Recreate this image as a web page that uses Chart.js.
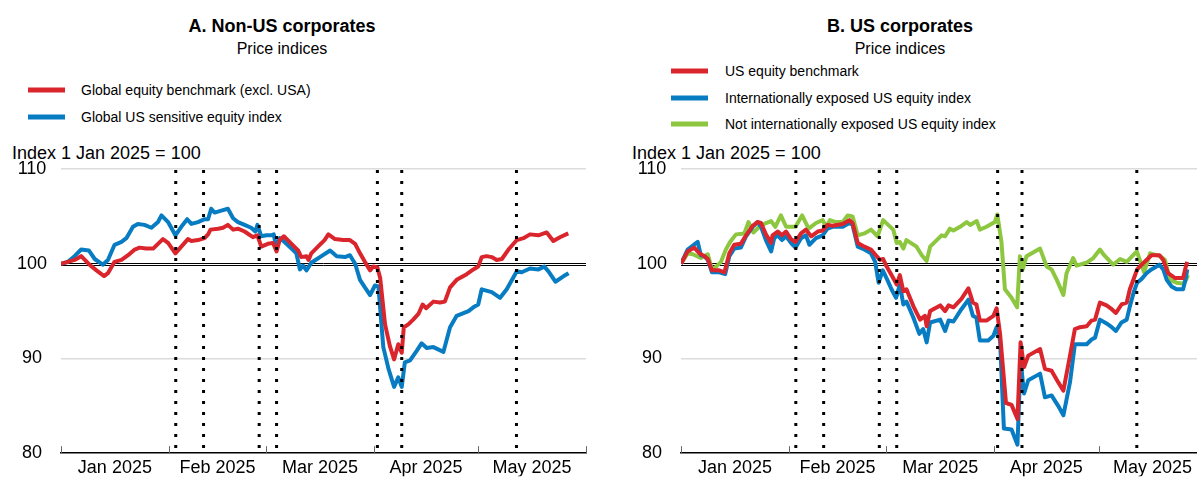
<!DOCTYPE html>
<html>
<head>
<meta charset="utf-8">
<script src="https://cdn.jsdelivr.net/npm/chart.js@4.4.1/dist/chart.umd.min.js"></script>
<style>
  body { margin: 0; width: 1197px; height: 478px; position: relative; overflow: hidden; background: #fff;
         font-family: "Liberation Sans", Arial, sans-serif; color: #000; }
  .c { position: absolute; transform: translate(-50%, -50%); white-space: nowrap; line-height: 1; }
  .title { font-size: 18px; font-weight: bold; }
  .sub { font-size: 16px; }
  .unit { position: absolute; font-size: 18px; line-height: 1; transform: translateY(-50%); white-space: nowrap; }
  .leg { position: absolute; font-size: 14px; line-height: 1; white-space: nowrap; transform: translateY(-50%); }
  .sw { position: absolute; width: 37px; height: 5px; transform: translateY(-50%); }
  canvas { position: absolute; top: 140px; }
</style>
</head>
<body>
<div class="c title" style="left:282px;top:26px">A. Non-US corporates</div>
<div class="c sub" style="left:282px;top:49px">Price indices</div>
<div class="c title" style="left:900px;top:26px">B. US corporates</div>
<div class="c sub" style="left:900px;top:49px">Price indices</div>
<div class="unit" style="left:12px;top:153px">Index 1 Jan 2025 = 100</div>
<div class="unit" style="left:632px;top:153px">Index 1 Jan 2025 = 100</div>
<div id="legA"></div>
<div id="legB"></div>
<canvas id="chartA" width="598" height="338" style="left:0"></canvas>
<canvas id="chartB" width="597" height="338" style="left:600px"></canvas>
<script>
// x values are days since 1 Jan 2025
const monthLabels = ["Jan 2025", "Feb 2025", "Mar 2025", "Apr 2025", "May 2025"];
const monthMid = [15.5, 45, 74.5, 105, 135.5];
const monthStart = [0, 31, 59, 90, 120, 151];
const eventDays = [33, 41, 57, 62, 91, 98, 131];

// Panel A
const benchADays = [0, 2, 3.9, 5.8, 8.2, 10.2, 12.4, 13.5, 15.4, 17.4, 19.3, 21.2, 22.6, 24.5, 26.5, 27.9, 29.3, 30.8, 32.9, 34.6, 36.5, 37.5, 39.4, 41.3, 42.3, 43, 45.2, 46.6, 48, 49.5, 50.9, 52.8, 55.2, 56.5, 57.6, 59.5, 61, 62, 62.9, 64.1, 66.3, 68.2, 69.1, 70.6, 71.2, 72, 73.9, 75.8, 76.9, 78.8, 81.2, 83.1, 84.6, 86, 87.4, 88.9, 89.8, 91, 91.8, 93.2, 94.6, 95.8, 97, 98, 98.6, 99.9, 101.3, 102.8, 104, 105, 107.1, 109, 110.4, 111.9, 113.8, 116.7, 118.6, 120, 121, 122.4, 123.9, 125.3, 126.8, 128.7, 131.1, 133, 134.9, 137.3, 139.7, 141.6, 143.5, 145.9];
const benchA = [100, 100.2, 100.4, 100.8, 99.9, 99.3, 98.7, 99.0, 100.2, 100.4, 100.9, 101.5, 101.7, 101.6, 101.6, 102.1, 102.6, 102.2, 101.1, 101.8, 102.6, 102.4, 102.5, 102.7, 103.1, 103.6, 103.7, 103.8, 104.1, 103.6, 103.7, 103.4, 102.8, 103.0, 101.8, 102.1, 102.2, 101.3, 102.5, 102.9, 102.1, 101.4, 100.7, 100.8, 100.4, 101.1, 101.8, 102.5, 103.1, 102.6, 102.5, 102.5, 102.1, 101.1, 100.2, 99.3, 99.7, 99.6, 98.5, 93.6, 91.3, 89.9, 91.5, 90.6, 93.3, 93.6, 94.1, 94.7, 95.7, 95.3, 96.0, 95.9, 96.0, 97.5, 98.3, 98.9, 99.4, 99.7, 100.7, 100.8, 100.7, 100.4, 100.5, 101.5, 102.5, 102.7, 103.1, 103.0, 103.3, 102.4, 102.8, 103.2];
const usSensDays = [0, 2, 3.9, 5.8, 8, 9.7, 12, 13.5, 15.4, 17.4, 18.8, 20.7, 22.1, 24, 26, 27.9, 28.9, 30.8, 32.9, 34.6, 36.3, 37.5, 39.4, 41.3, 42.3, 43.2, 44.2, 46.1, 48, 49.5, 50.9, 52.8, 54.7, 55.9, 56.5, 57.6, 59.1, 60.5, 61.2, 62, 62.9, 64.3, 66.3, 67.7, 68.7, 69.6, 70.6, 72, 74.9, 77.4, 79.3, 81.7, 83.1, 84.6, 86, 87.4, 88.9, 90.3, 91.3, 92.7, 94.2, 95.8, 97, 98, 98.9, 100.4, 102.3, 103.7, 105.2, 107.1, 110, 111.9, 113.8, 117.2, 118.6, 120, 121, 123.9, 126.3, 128.2, 131.1, 132.5, 134.9, 137.3, 139, 140.2, 142.2, 144.6, 146];
const usSensA = [100, 100.2, 100.8, 101.5, 101.4, 100.5, 99.9, 100.4, 102.0, 102.3, 102.7, 103.9, 104.2, 104.1, 103.8, 104.4, 105.1, 104.4, 103.0, 103.9, 104.7, 104.2, 104.4, 104.7, 104.7, 105.8, 105.4, 105.6, 105.8, 104.8, 104.4, 104.1, 103.8, 103.4, 104.1, 102.9, 103.0, 103.0, 103.1, 101.5, 102.7, 102.3, 101.6, 101.1, 99.4, 99.8, 99.3, 100.1, 100.8, 101.4, 100.8, 100.7, 100.9, 100.0, 98.3, 97.5, 96.7, 97.7, 97.6, 91.2, 88.9, 87.0, 88.0, 87.0, 89.6, 89.8, 90.8, 91.6, 91.1, 91.2, 90.7, 93.3, 94.5, 95.0, 95.4, 95.7, 97.3, 97.0, 96.4, 97.3, 99.2, 99.1, 99.5, 99.4, 99.7, 99.2, 98.1, 98.7, 99.0];

// Panel B
const usBenchDays = [0, 1.9, 3.8, 5.3, 6.7, 7.7, 8.9, 11, 12.5, 13.9, 15.3, 17.2, 18.7, 20.6, 22, 23, 24.4, 25.9, 26.3, 27.8, 29, 30.2, 31.6, 32.9, 34.5, 35.9, 37.4, 39.3, 40.7, 42.1, 43.6, 46.5, 48.4, 49.3, 50.8, 52.7, 54.6, 56, 57.2, 58.1, 59.1, 60.5, 62, 62.9, 63.9, 64.8, 66.8, 68.7, 70.1, 70.6, 71.6, 74.5, 75.9, 76.9, 78.3, 80.6, 82.6, 83.9, 84.9, 85.9, 87.8, 89.8, 90.7, 91.7, 93.4, 95, 96.7, 97.6, 98.6, 99.8, 103.2, 104.6, 106.5, 108.4, 109.9, 111.8, 113.2, 114.7, 116.6, 118, 119, 120.4, 122.3, 123.8, 125, 126.6, 128.1, 129, 130.2, 131.1, 132.4, 133.8, 135.2, 137.5, 138.6, 140, 141.9, 144.3, 145.1, 145.5];
const usBench = [100, 101.3, 101.7, 101.1, 100.8, 100.5, 99.3, 99.3, 99.1, 101.1, 102.0, 102.1, 103.0, 104.0, 104.4, 104.3, 103.1, 102.2, 103.0, 103.4, 103.0, 103.4, 102.6, 102.3, 103.2, 103.6, 102.9, 103.4, 103.5, 104.1, 104.0, 104.2, 104.6, 104.3, 102.2, 101.8, 101.5, 100.9, 100.4, 100.5, 99.7, 98.8, 97.8, 98.8, 97.1, 97.3, 95.5, 94.1, 94.5, 93.4, 95.0, 95.6, 95.0, 95.6, 95.4, 96.3, 97.4, 95.9, 95.7, 94.0, 94.0, 94.5, 95.3, 92.6, 85.3, 85.1, 83.6, 91.7, 89.1, 90.3, 91.0, 88.9, 88.7, 87.5, 86.6, 90.3, 93.1, 93.3, 93.4, 94.0, 94.1, 95.9, 95.6, 95.2, 94.8, 95.7, 95.9, 97.3, 98.5, 99.4, 99.9, 100.4, 100.9, 100.9, 100.4, 99.0, 98.5, 98.5, 99.7, 100.2];
const intlDays = [0, 1.9, 4.8, 5.7, 6.7, 7.7, 8.9, 11, 12.7, 13.9, 15.3, 17.2, 18.7, 20.6, 22, 23, 24.4, 25.9, 26.8, 27.8, 29, 30.2, 31.6, 32.9, 34.5, 35.9, 36.9, 38.8, 40.7, 42.1, 43.6, 46.5, 48.4, 49.3, 50.8, 52.7, 54.6, 55.8, 56.8, 58, 59.3, 60.5, 61.8, 62.9, 63.9, 64.8, 66.8, 68.5, 69.6, 70.6, 71.6, 74.5, 75.9, 76.9, 78.3, 80.6, 82.6, 83.9, 84.9, 85.9, 88.3, 89.8, 90.7, 91.7, 92.8, 95, 96.7, 97.6, 98.6, 99.8, 103.2, 104.6, 106.5, 108.4, 109.9, 111.8, 113.2, 114.7, 116.6, 118, 119, 120.4, 122.3, 123.8, 125, 126.6, 128.1, 129, 130.2, 131.1, 132.4, 133.8, 135.2, 137.5, 138.6, 139.6, 141, 142.4, 144.3, 145.1, 145.5];
const intlExposed = [100, 101.5, 102.3, 100.9, 100.8, 100.4, 99.1, 99.1, 98.9, 100.8, 101.6, 101.7, 102.9, 103.9, 104.4, 103.9, 102.5, 101.3, 102.7, 103.0, 102.5, 102.9, 102.2, 101.7, 102.7, 103.0, 102.0, 102.7, 103.0, 103.7, 103.9, 103.9, 104.3, 104.1, 101.8, 101.5, 101.1, 100.2, 98.0, 99.3, 98.3, 97.3, 96.4, 97.8, 95.7, 96.0, 94.3, 92.6, 93.1, 91.7, 93.8, 94.1, 92.9, 94.0, 93.9, 95.2, 96.2, 94.5, 94.3, 91.9, 91.9, 92.4, 93.3, 91.9, 82.6, 82.5, 80.9, 89.8, 86.3, 87.7, 88.4, 85.9, 86.1, 85.0, 84.0, 87.5, 91.5, 91.5, 91.5, 92.0, 92.2, 94.1, 93.7, 93.3, 92.9, 93.8, 94.1, 95.5, 97.1, 98.0, 98.4, 99.0, 99.4, 99.9, 99.4, 98.3, 97.6, 97.3, 97.3, 98.5, 99.4];
const notIntlDays = [0, 1.9, 3.4, 5.7, 7.7, 8.9, 10.1, 11.5, 12.9, 14.1, 15.8, 18.2, 19.4, 20.8, 22.5, 23.9, 25.9, 27.1, 28.7, 30.2, 32.9, 34.8, 36.7, 38.8, 40.7, 41.7, 42.8, 44.5, 46.5, 47.9, 49.3, 50.8, 52.7, 54.6, 56.5, 58.1, 61, 62, 62.9, 63.9, 64.8, 67.7, 69.2, 70.6, 71.6, 73.5, 74.9, 75.9, 77.3, 78.3, 80.2, 82.1, 83.1, 85, 85.9, 87.8, 90.2, 90.9, 92.1, 93.1, 95, 96.6, 97.4, 98.2, 99.3, 103.2, 105.1, 106.5, 108, 109.9, 110.8, 112.7, 113.7, 116.5, 118.5, 120.4, 121.6, 124.2, 126.2, 128.1, 131, 133.1, 134.8, 137.7, 139.1, 140.5, 142.4, 144.3, 145.2, 145.7];
const notIntlExposed = [100, 101.1, 101.0, 100.6, 101.0, 99.4, 99.7, 100.2, 101.5, 102.3, 103.1, 103.2, 104.4, 103.3, 103.9, 104.2, 104.5, 103.9, 105.1, 103.9, 103.9, 105.1, 103.7, 104.3, 104.6, 103.9, 104.6, 104.4, 104.4, 105.1, 105.0, 103.0, 103.2, 103.6, 102.9, 104.6, 103.6, 102.2, 102.3, 101.6, 102.5, 101.8, 100.9, 100.3, 101.8, 102.5, 103.0, 102.9, 103.7, 103.5, 103.9, 104.4, 104.1, 104.5, 103.6, 103.9, 104.4, 105.2, 102.3, 97.3, 96.4, 95.4, 100.8, 99.4, 100.8, 101.6, 99.7, 99.4, 98.3, 96.7, 99.0, 100.6, 99.8, 100.1, 100.6, 101.5, 100.9, 99.9, 100.5, 100.2, 101.3, 99.1, 101.1, 100.8, 100.4, 98.3, 98.0, 97.9, 98.3, 98.8];

const RED = "#da252c", BLUE = "#087cc2", GREEN = "#8dc63f";

const seriesA = [
  { label: "Global equity benchmark (excl. USA)", color: RED, days: benchADays, vals: benchA },
  { label: "Global US sensitive equity index", color: BLUE, days: usSensDays, vals: usSensA }
];
const seriesB = [
  { label: "US equity benchmark", color: RED, days: usBenchDays, vals: usBench },
  { label: "Internationally exposed US equity index", color: BLUE, days: intlDays, vals: intlExposed },
  { label: "Not internationally exposed US equity index", color: GREEN, days: notIntlDays, vals: notIntlExposed }
];

function buildLegend(id, series, swX, textX, rowsY) {
  const box = document.getElementById(id);
  series.forEach((s, i) => {
    const sw = document.createElement("div");
    sw.className = "sw";
    sw.style.left = swX + "px"; sw.style.top = rowsY[i] + "px"; sw.style.background = s.color;
    const t = document.createElement("div");
    t.className = "leg";
    t.style.left = textX + "px"; t.style.top = rowsY[i] + "px";
    t.textContent = s.label;
    box.appendChild(sw); box.appendChild(t);
  });
}
buildLegend("legA", seriesA, 28, 81, [90, 117]);
buildLegend("legB", seriesB, 671, 725, [71, 98, 124]);

const deco = {
  id: "deco",
  beforeDatasetsDraw(chart) {
    const { ctx, chartArea: a, scales: { y } } = chart;
    const y0 = Math.round(y.getPixelForValue(100));
    ctx.save();
    ctx.strokeStyle = "#000";
    ctx.lineWidth = 1;
    [y0 - 0.5, y0 + 1.5].forEach(yy => {
      ctx.beginPath(); ctx.moveTo(a.left, yy); ctx.lineTo(a.right, yy); ctx.stroke();
    });
    ctx.restore();
  },
  afterDatasetsDraw(chart) {
    const { ctx, chartArea: a, scales: { x } } = chart;
    ctx.save();
    // month boundary tick marks
    ctx.strokeStyle = "#666";
    ctx.lineWidth = 1;
    monthStart.forEach(d => {
      if (d > x.max) return;
      const px = Math.round(x.getPixelForValue(d)) + 0.5;
      ctx.beginPath(); ctx.moveTo(px, a.bottom); ctx.lineTo(px, a.bottom - 7); ctx.stroke();
    });
    // dotted event lines
    ctx.strokeStyle = "#000";
    ctx.lineWidth = 3;
    ctx.setLineDash([3, 8]);
    eventDays.forEach(d => {
      const px = x.getPixelForValue(d);
      ctx.beginPath(); ctx.moveTo(px, a.top + 1); ctx.lineTo(px, a.bottom); ctx.stroke();
    });
    ctx.restore();
  }
};

function makeChart(id, series, xMax, yWidth, padRight) {
  return new Chart(document.getElementById(id).getContext("2d"), {
    type: "line",
    data: {
      datasets: series.map(s => ({
        label: s.label,
        data: s.days.map((d, i) => ({ x: d, y: s.vals[i] })),
        borderColor: s.color,
        borderWidth: 4,
        pointRadius: 0,
        tension: 0,
        borderJoinStyle: "round"
      }))
    },
    options: {
      responsive: false,
      animation: false,
      devicePixelRatio: 1,
      layout: { padding: { top: 29, right: padRight, left: 0, bottom: 0 } },
      plugins: { legend: { display: false }, tooltip: { enabled: false } },
      scales: {
        x: {
          type: "linear",
          min: 0,
          max: xMax,
          afterBuildTicks: s => { s.ticks = monthMid.map(v => ({ value: v })); },
          afterFit: s => { s.height = 23; },
          ticks: {
            autoSkip: false, maxRotation: 0, padding: 4,
            color: "#000",
            font: { family: "'Liberation Sans', Arial, sans-serif", size: 18 },
            callback: (v, i) => monthLabels[i]
          },
          grid: { display: false, drawTicks: false },
          border: { display: true, color: "#000", width: 1.5 }
        },
        y: {
          min: 80,
          max: 110,
          afterFit: s => { s.width = yWidth; },
          ticks: {
            stepSize: 10, padding: 14, crossAlign: "center",
            color: "#000",
            font: { family: "'Liberation Sans', Arial, sans-serif", size: 18 }
          },
          grid: {
            drawTicks: false,
            lineWidth: 1.5,
            color: c => (c.tick && (c.tick.value === 90 || c.tick.value === 110)) ? "#dcdcdc" : "rgba(0,0,0,0)"
          },
          border: { display: false }
        }
      }
    },
    plugins: [deco]
  });
}

makeChart("chartA", seriesA, 151, 61, 12);
makeChart("chartB", seriesB, 148.3, 81, 0);
</script>
</body>
</html>
